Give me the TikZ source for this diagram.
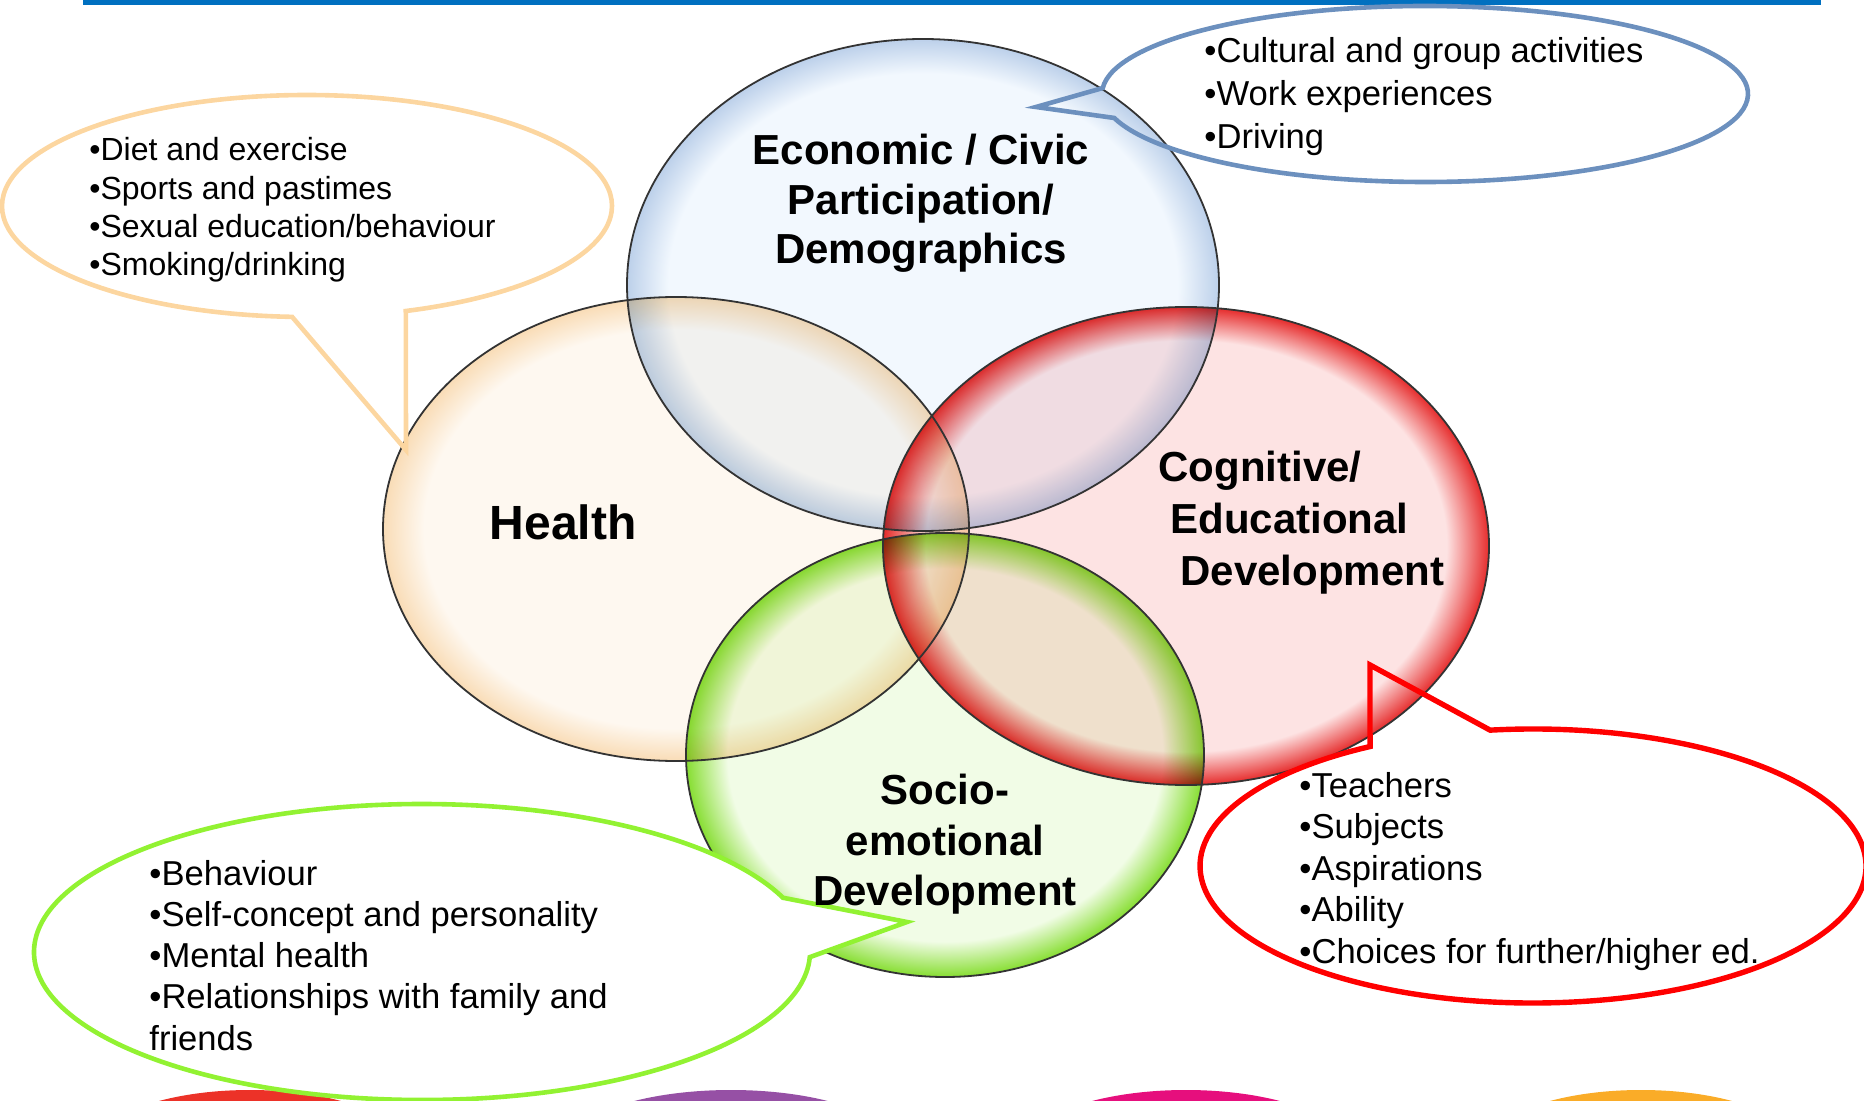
\documentclass[tikz,border=0pt]{standalone}
\usepackage{fontspec}
\setmainfont{Liberation Sans}

\definecolor{barblue}{RGB}{0,112,192}
\definecolor{econin}{RGB}{242,248,254}
\definecolor{econrim}{RGB}{188,208,234}
\definecolor{healthin}{RGB}{254,248,240}
\definecolor{healthrim}{RGB}{249,220,182}
\definecolor{cogin}{RGB}{253,227,227}
\definecolor{cogrim}{RGB}{230,45,45}
\definecolor{socioin}{RGB}{241,252,230}
\definecolor{sociorim}{RGB}{135,222,50}
\definecolor{callblue}{RGB}{108,144,190}
\definecolor{callpeach}{RGB}{252,214,160}
\definecolor{callred}{RGB}{255,0,0}
\definecolor{callgreen}{RGB}{146,242,50}
\definecolor{blobred}{RGB}{236,50,40}
\definecolor{blobpurple}{RGB}{150,80,165}
\definecolor{blobmagenta}{RGB}{230,15,125}
\definecolor{bloborange}{RGB}{250,172,40}

\pgfdeclareradialshading{econshade}{\pgfpoint{0bp}{0bp}}{color(0bp)=(econin); color(21.5bp)=(econin); color(25bp)=(econrim); color(50bp)=(econrim)}
\pgfdeclareradialshading{healthshade}{\pgfpoint{0bp}{0bp}}{color(0bp)=(healthin); color(21.5bp)=(healthin); color(25bp)=(healthrim); color(50bp)=(healthrim)}
\pgfdeclareradialshading{cogshade}{\pgfpoint{0bp}{0bp}}{color(0bp)=(cogin); color(21.5bp)=(cogin); color(25bp)=(cogrim); color(50bp)=(cogrim)}
\pgfdeclareradialshading{socioshade}{\pgfpoint{0bp}{0bp}}{color(0bp)=(socioin); color(21bp)=(socioin); color(25bp)=(sociorim); color(50bp)=(sociorim)}

\tikzset{
  vennline/.style={draw=black!80, line width=0.9pt},
  callout/.style={line width=2.3pt, line join=miter},
  venntext/.style={font=\bfseries\fontsize{21}{25}\selectfont, inner sep=0pt, anchor=base},
  venntextleft/.style={venntext, anchor=base west},
  calltext/.style={font=\fontsize{17.3}{21}\selectfont, inner sep=0pt, anchor=base west},
  callsmall/.style={calltext, font=\fontsize{16}{19}\selectfont}
}

\begin{document}
\begin{tikzpicture}[x=0.5pt, y=-0.5pt]
  \useasboundingbox (0,0) rectangle (1864,1101);
  \clip (0,0) rectangle (1864,1101);

  % Title bar
  \fill[barblue] (83,0) rectangle (1821,5);

  % Bottom colour blobs
  \fill[blobred] (250,1152) ellipse [x radius=160, y radius=62];
  \fill[blobpurple] (731,1152) ellipse [x radius=170, y radius=62];
  \fill[blobmagenta] (1186,1152) ellipse [x radius=165, y radius=62];
  \fill[bloborange] (1641,1152) ellipse [x radius=160, y radius=62];

  % Venn ellipses
  \shade[shading=healthshade, blend mode=multiply] (676,529) ellipse [x radius=293, y radius=232];
  \shade[shading=econshade, blend mode=multiply] (923,285) ellipse [x radius=296, y radius=246];
  \shade[shading=cogshade, blend mode=multiply] (1186,546) ellipse [x radius=303, y radius=239];
  \shade[shading=socioshade, blend mode=multiply] (945,755) ellipse [x radius=259, y radius=222];

  \draw[vennline] (676,529) ellipse [x radius=293, y radius=232];
  \draw[vennline] (923,285) ellipse [x radius=296, y radius=246];
  \draw[vennline] (1186,546) ellipse [x radius=303, y radius=239];
  \draw[vennline] (945,755) ellipse [x radius=259, y radius=222];

  % Callout tips
  \coordinate (healthtip) at (406,450);
  \coordinate (econtip) at (1036,107);
  \coordinate (cogtip) at (1370,665);
  \coordinate (sociotip) at (907,922);

  % Callouts
  \draw[callout, draw=callpeach] (307,206) ++(92.8:305 and 111)
    arc [start angle=92.8, end angle=431.1, x radius=305, y radius=111] -- (healthtip) -- cycle;
  \draw[callout, draw=callblue] (1425,94) ++(183.9:323 and 88)
    arc [start angle=183.9, end angle=524.2, x radius=323, y radius=88] -- (econtip) -- cycle;
  \draw[callout, draw=callred, line width=2.7pt] (1533,866) ++(262.6:333 and 137)
    arc [start angle=262.6, end angle=600.7, x radius=333, y radius=137] -- (cogtip) -- cycle;
  \filldraw[callout, draw=callgreen, fill=white] (422,952) ++(2:388 and 148)
    arc [start angle=2, end angle=338.5, x radius=388, y radius=148] -- (sociotip) -- cycle;

  % Callout texts
  \foreach \txt [count=\i] in {•Diet and exercise, •Sports and pastimes,
      •Sexual education/behaviour, •Smoking/drinking}
    \node[callsmall] (healthitem\i) at (89, {161+38.3*(\i-1)}) {\txt};
  \foreach \txt [count=\i] in {•Cultural and group activities, •Work experiences, •Driving}
    \node[calltext] (econitem\i) at (1204, {63+43*(\i-1)}) {\txt};
  \foreach \txt [count=\i] in {•Teachers, •Subjects, •Aspirations, •Ability,
      •Choices for further/higher ed.}
    \node[calltext] (cogitem\i) at (1299, {797+41.5*(\i-1)}) {\txt};
  \foreach \txt [count=\i] in {•Behaviour, •Self-concept and personality, •Mental health,
      •Relationships with family and, friends}
    \node[calltext] (socioitem\i) at (149, {885+41.3*(\i-1)}) {\txt};

  % Venn labels
  \node[venntext] (econ1) at (921,165) {Economic / Civic};
  \node[venntext] (econ2) at (921,215) {Participation/};
  \node[venntext] (econ3) at (921,264) {Demographics};
  \node[venntext, font=\bfseries\fontsize{24}{28}\selectfont] (health) at (563,539) {Health};
  \node[venntextleft] (cog1) at (1158,482) {Cognitive/};
  \node[venntextleft] (cog2) at (1170,533) {Educational};
  \node[venntextleft] (cog3) at (1180,585) {Development};
  \node[venntext] (socio1) at (945,804) {Socio-};
  \node[venntext] (socio2) at (945,855) {emotional};
  \node[venntext] (socio3) at (945,905) {Development};
\end{tikzpicture}
\end{document}
